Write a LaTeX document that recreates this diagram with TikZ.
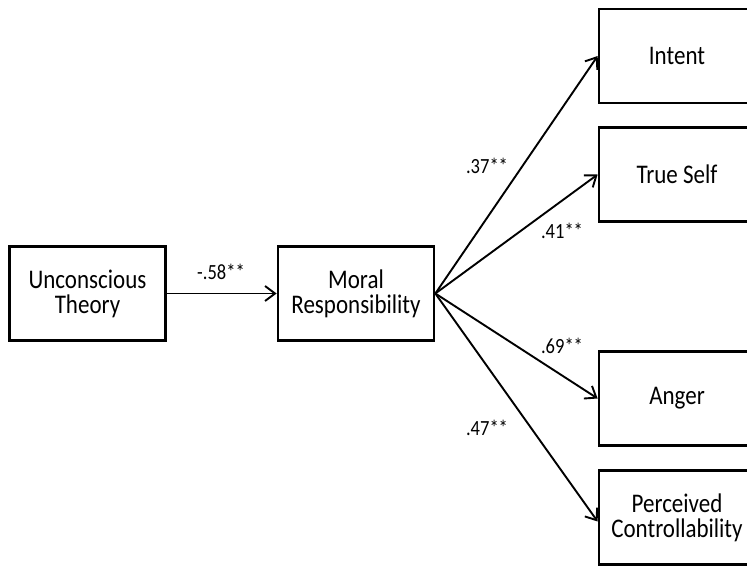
\documentclass[tikz,border=0pt]{standalone}
\usepackage{fontspec}
\usepackage{graphicx}
\setmainfont{Carlito}
\usetikzlibrary{arrows.meta}
\newcommand{\vsc}[1]{\scalebox{1}[1.17]{#1}}
\begin{document}
\begin{tikzpicture}[x=1pt,y=-1pt,
  box/.style={draw=black, line width=2.7pt, minimum width=156pt, minimum height=94pt,
    align=center, font=\fontsize{23}{25}\selectfont, inner sep=0pt},
  conn/.style={line width=1.9pt, -{Straight Barb[length=10pt,width=15pt,line width=1.9pt]}},
  lab/.style={font=\fontsize{18.5}{20}\selectfont, inner sep=0pt}]
\useasboundingbox (0,0) rectangle (747,566);
\clip (0,0) rectangle (747,566);
\fill[white] (0,0) rectangle (747,566);
\node[box] (uc) at (87.5,293.5) {\vsc{Unconscious}\\\vsc{Theory}};
\node[box] (mr) at (356,293.5) {\vsc{Moral}\\\vsc{Responsibility}};
\node[box] (in) at (677,56) {\vsc{Intent}};
\node[box] (ts) at (677,174.5) {\vsc{True Self}};
\node[box] (an) at (677,398.5) {\vsc{Anger}};
\node[box] (pc) at (677,517.5) {\vsc{Perceived}\\\vsc{Controllability}};
\draw[conn] (uc.east) -- (mr.west);
\draw[conn] (mr.east) -- (in.west);
\draw[conn] (mr.east) -- (ts.west);
\draw[conn] (mr.east) -- (an.west);
\draw[conn] (mr.east) -- ([yshift=-4pt]pc.west);
\node[lab] (l1) at (221,272) {\vsc{-.58**}};
\node[lab] (l2) at (487,166) {\vsc{.37**}};
\node[lab] (l3) at (562,231) {\vsc{.41**}};
\node[lab] (l4) at (562,346) {\vsc{.69**}};
\node[lab] (l5) at (487,428) {\vsc{.47**}};
\end{tikzpicture}
\end{document}
